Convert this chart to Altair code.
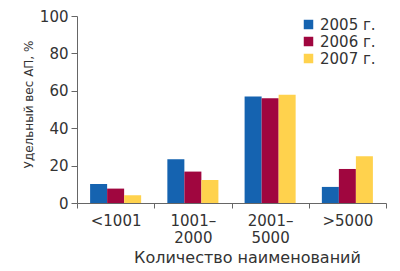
import altair as alt
import pandas as pd

categories = ["<1001", "1001–2000", "2001–5000", ">5000"]
years = ["2005 г.", "2006 г.", "2007 г."]
v2005 = [10.2, 23.4, 56.9, 8.6]
v2006 = [7.7, 16.8, 56.0, 18.2]
v2007 = [4.1, 12.3, 57.9, 25.0]
colors = ["#1563b0", "#a0063f", "#ffd24d"]

rows = []
for yr, vals in zip(years, [v2005, v2006, v2007]):
    for c, v in zip(categories, vals):
        rows.append({"cat": c, "year": yr, "value": v})
df = pd.DataFrame(rows)

FONT = "DejaVu Sans"

chart = alt.Chart(df).mark_bar().encode(
    x=alt.X("cat:N", sort=categories,
            scale=alt.Scale(paddingInner=0, paddingOuter=0),
            axis=alt.Axis(title="Количество наименований", labelAngle=0,
                          labelExpr="split(replace(datum.label, '–', '–|'), '|')",
                          labelFontSize=15, labelFont=FONT, labelColor="#333333",
                          labelPadding=5, labelLineHeight=17,
                          tickBand="extent", tickSize=5, tickColor="#666666",
                          domainColor="#666666",
                          titleFont=FONT, titleFontSize=16, titleFontWeight="normal",
                          titleColor="#333333", titleX=170, titleY=59,
                          titleAlign="center", titleBaseline="alphabetic")),
    xOffset=alt.XOffset("year:N", sort=years,
                        scale=alt.Scale(paddingOuter=0.77, paddingInner=0)),
    y=alt.Y("value:Q", scale=alt.Scale(domain=[0, 100]),
            axis=alt.Axis(title="Удельный вес АП, %", values=[0, 20, 40, 60, 80, 100],
                          grid=False, labelFontSize=15, labelFont=FONT,
                          labelColor="#333333", labelPadding=3, tickSize=6,
                          tickColor="#666666", domainColor="#666666",
                          titleFont=FONT, titleFontSize=12, titleFontWeight="normal",
                          titleColor="#333333", titleX=-45, titleY=88,
                          titleAngle=270, titleAlign="center", titleBaseline="alphabetic")),
    color=alt.Color("year:N", sort=years,
                    scale=alt.Scale(domain=years, range=colors),
                    legend=alt.Legend(title=None, orient="none", legendX=224, legendY=1,
                                      symbolType="square", symbolSize=90,
                                      symbolStrokeWidth=0, labelFont=FONT,
                                      labelFontSize=15, labelColor="#333333",
                                      labelOffset=4, rowPadding=1, padding=0)),
).properties(
    width=309, height=187,
    autosize=alt.AutoSizeParams(type="none"),
    padding={"left": 77, "top": 16, "right": 14, "bottom": 68},
).configure_view(stroke=None)

chart.save("out.html", embed_options={"renderer": "svg", "actions": False})
